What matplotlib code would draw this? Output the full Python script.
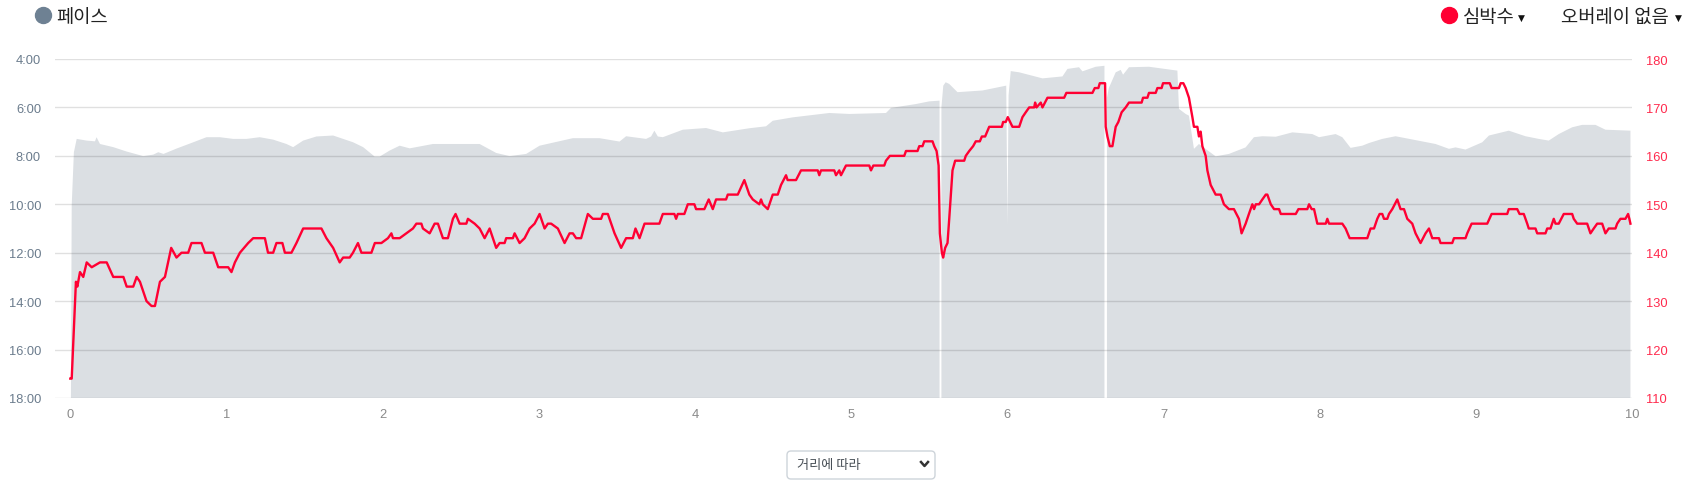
import numpy as np
import matplotlib.pyplot as plt
from matplotlib.lines import Line2D
from matplotlib.patches import FancyBboxPatch

plt.rcParams['font.family'] = ['Noto Sans CJK KR', 'DejaVu Sans']

# pace (min/km) against distance (km); nan = gap in the recording
pace_km = [0.000, 0.004, 0.009, 0.023, 0.041, 0.105, 0.158, 0.168, 0.190, 0.275, 0.360, 0.467,
           0.531, 0.563, 0.597, 0.680, 0.787, 0.872, 0.958, 1.043, 1.128, 1.213, 1.299, 1.384,
           1.427, 1.491, 1.576, 1.683, 1.747, 1.811, 1.875, 1.949, 1.981, 2.045, 2.109, 2.173,
           2.322, 2.621, 2.727, 2.813, 2.919, 3.005, 3.218, 3.389, 3.517, 3.559, 3.687, 3.719,
           3.740, 3.762, 3.794, 3.922, 4.071, 4.178, 4.348, 4.455, 4.498, 4.626, 4.860, 4.988,
           5.223, 5.255, 5.415, 5.500, 5.566, 5.572, 5.578, 5.590, 5.605, 5.628, 5.681, 5.841,
           5.993, 6.001, 6.008, 6.022, 6.076, 6.225, 6.353, 6.385, 6.459, 6.481, 6.566, 6.622,
           6.630, 6.638, 6.650, 6.694, 6.726, 6.741, 6.779, 6.907, 7.089, 7.099, 7.142, 7.163,
           7.195, 7.227, 7.334, 7.419, 7.526, 7.579, 7.633, 7.719, 7.825, 7.953, 7.996, 8.102,
           8.145, 8.198, 8.273, 8.316, 8.401, 8.486, 8.742, 8.828, 8.870, 8.934, 9.041, 9.084,
           9.211, 9.318, 9.403, 9.467, 9.531, 9.617, 9.681, 9.766, 9.830, 9.990]
pace_min = [18.0, 18.0, 10.05, 7.85, 7.30, 7.37, 7.40, 7.23, 7.51, 7.64, 7.82, 8.01,
            7.95, 7.85, 7.92, 7.70, 7.44, 7.23, 7.23, 7.30, 7.30, 7.23, 7.33, 7.51,
            7.64, 7.37, 7.20, 7.16, 7.30, 7.44, 7.64, 8.03, 8.03, 7.78, 7.58, 7.69,
            7.51, 7.51, 7.88, 8.01, 7.92, 7.58, 7.27, 7.27, 7.41, 7.19, 7.30, 7.20,
            6.96, 7.20, 7.23, 6.92, 6.85, 7.03, 6.86, 6.78, 6.55, 6.41, 6.23, 6.27,
            6.23, 6.02, 5.86, 5.75, 5.72, np.nan, 6.00, 5.10, 4.96, 5.03, 5.37, 5.30,
            5.10, 10.88, 5.50, 4.50, 4.55, 4.80, 4.72, 4.41, 4.34, 4.51, 4.32, 4.28,
            np.nan, 5.60, 5.20, 4.55, 4.45, 4.65, 4.34, 4.32, 4.48, 6.06, 6.27, 6.34,
            7.71, 7.51, 8.02, 7.92, 7.65, 7.23, 7.19, 7.21, 7.03, 7.10, 7.23, 7.10,
            7.23, 7.67, 7.58, 7.47, 7.30, 7.19, 7.51, 7.71, 7.65, 7.74, 7.44, 7.16,
            6.96, 7.19, 7.30, 7.37, 7.10, 6.82, 6.72, 6.72, 6.92, 6.96]

# heart rate (bpm) against distance (km)
hr_km = [0.000, 0.009, 0.036, 0.045, 0.062, 0.083, 0.105, 0.137, 0.190, 0.233, 0.275, 0.340,
         0.361, 0.403, 0.425, 0.446, 0.488, 0.520, 0.542, 0.574, 0.606, 0.646, 0.680, 0.712,
         0.755, 0.776, 0.840, 0.862, 0.883, 0.915, 0.947, 1.011, 1.032, 1.054, 1.086, 1.139,
         1.171, 1.246, 1.266, 1.299, 1.320, 1.358, 1.374, 1.416, 1.448, 1.491, 1.608, 1.640,
         1.683, 1.725, 1.747, 1.789, 1.810, 1.842, 1.864, 1.928, 1.950, 1.992, 2.034, 2.056,
         2.066, 2.109, 2.152, 2.194, 2.216, 2.248, 2.258, 2.301, 2.333, 2.354, 2.386, 2.418,
         2.450, 2.467, 2.493, 2.536, 2.546, 2.589, 2.621, 2.653, 2.685, 2.727, 2.749, 2.781,
         2.791, 2.834, 2.845, 2.877, 2.909, 2.941, 2.973, 3.005, 3.037, 3.058, 3.079, 3.122,
         3.165, 3.197, 3.218, 3.239, 3.271, 3.314, 3.346, 3.399, 3.410, 3.442, 3.485, 3.527,
         3.559, 3.602, 3.619, 3.645, 3.677, 3.772, 3.794, 3.868, 3.879, 3.890, 3.932, 3.954,
         3.996, 4.007, 4.060, 4.088, 4.114, 4.135, 4.199, 4.210, 4.274, 4.316, 4.348, 4.370,
         4.412, 4.423, 4.434, 4.466, 4.498, 4.530, 4.551, 4.583, 4.593, 4.647, 4.679, 4.786,
         4.796, 4.807, 4.892, 4.903, 4.924, 4.935, 4.967, 5.116, 5.127, 5.142, 5.212, 5.223,
         5.248, 5.340, 5.351, 5.425, 5.436, 5.457, 5.468, 5.521, 5.532, 5.547, 5.560, 5.568,
         5.581, 5.589, 5.602, 5.617, 5.628, 5.649, 5.666, 5.724, 5.734, 5.756, 5.781, 5.798,
         5.824, 5.837, 5.858, 5.884, 5.965, 5.973, 5.990, 6.003, 6.033, 6.076, 6.097, 6.118,
         6.140, 6.172, 6.178, 6.187, 6.214, 6.225, 6.257, 6.364, 6.378, 6.545, 6.560, 6.583,
         6.592, 6.626, 6.630, 6.641, 6.656, 6.673, 6.694, 6.711, 6.732, 6.758, 6.779, 6.860,
         6.869, 6.897, 6.907, 6.950, 6.961, 6.988, 6.997, 7.040, 7.052, 7.099, 7.110, 7.127,
         7.142, 7.163, 7.185, 7.195, 7.217, 7.227, 7.238, 7.249, 7.270, 7.281, 7.302, 7.334,
         7.366, 7.387, 7.419, 7.451, 7.483, 7.500, 7.526, 7.547, 7.569, 7.580, 7.591, 7.612,
         7.633, 7.655, 7.665, 7.687, 7.708, 7.740, 7.751, 7.847, 7.864, 7.921, 7.932, 7.949,
         7.964, 7.985, 8.039, 8.049, 8.060, 8.145, 8.166, 8.192, 8.305, 8.326, 8.348, 8.369,
         8.384, 8.401, 8.412, 8.433, 8.444, 8.465, 8.497, 8.518, 8.540, 8.561, 8.593, 8.614,
         8.646, 8.678, 8.700, 8.721, 8.764, 8.774, 8.849, 8.860, 8.934, 8.945, 8.973, 9.073,
         9.101, 9.201, 9.211, 9.265, 9.280, 9.307, 9.329, 9.339, 9.382, 9.393, 9.446, 9.457,
         9.478, 9.499, 9.510, 9.531, 9.563, 9.617, 9.627, 9.649, 9.713, 9.734, 9.755, 9.777,
         9.809, 9.830, 9.851, 9.894, 9.905, 9.926, 9.958, 9.975, 9.983, 9.990]
hr_bpm = [114, 114, 134, 133, 136, 135, 138, 137, 138, 138, 135, 135,
          133, 133, 135, 134, 130, 129, 129, 134, 135, 141, 139, 140,
          140, 142, 142, 140, 140, 140, 137, 137, 136, 138, 140, 142,
          143, 143, 140, 140, 142, 142, 140, 140, 142, 145, 145, 143,
          141, 138, 139, 139, 140, 142, 140, 140, 142, 142, 143, 144,
          143, 143, 144, 145, 146, 146, 145, 144, 146, 146, 143, 143,
          147, 148, 146, 146, 147, 146, 145, 143, 145, 141, 142, 142,
          143, 143, 144, 142, 143, 145, 146, 148, 145, 146, 146, 145,
          142, 144, 144, 143, 143, 148, 147, 147, 148, 148, 144, 141,
          143, 143, 145, 143, 146, 146, 148, 148, 147, 148, 148, 150,
          150, 149, 149, 151, 149, 151, 151, 152, 152, 155, 152, 151,
          150, 151, 150, 149, 152, 152, 154, 156, 155, 155, 157, 157,
          156, 157, 157, 156, 157, 156, 158, 158, 157, 158, 158, 159,
          160, 160, 161, 161, 162, 162, 163, 163, 162, 161, 158, 144,
          140, 139, 141, 142, 147, 157, 159, 159, 160, 161, 162, 163,
          163, 164, 164, 166, 166, 167, 167, 168, 166, 166, 168, 169,
          170, 170, 171, 170, 171, 170, 172, 172, 173, 173, 174, 174,
          175, 175, 166, 164, 162, 162, 166, 167, 169, 170, 171, 171,
          172, 172, 173, 173, 174, 174, 175, 175, 174, 174, 175, 175,
          174, 172, 168, 166, 166, 164, 165, 162, 160, 157, 154, 152,
          152, 150, 149, 149, 147, 144, 146, 148, 150, 149, 150, 150,
          151, 152, 152, 150, 149, 149, 148, 148, 149, 149, 150, 149,
          149, 146, 146, 147, 146, 146, 145, 143, 143, 145, 145, 147,
          148, 148, 147, 147, 148, 149, 151, 149, 149, 147, 146, 144,
          142, 144, 145, 143, 143, 142, 142, 143, 143, 144, 146, 146,
          148, 148, 149, 149, 148, 148, 146, 145, 145, 144, 144, 145,
          145, 147, 146, 146, 148, 148, 147, 146, 146, 144, 145, 146,
          146, 144, 145, 145, 146, 147, 147, 148, 147, 146]

pace_ticks = [4, 6, 8, 10, 12, 14, 16, 18]
pace_labels = ['4:00', '6:00', '8:00', '10:00', '12:00', '14:00', '16:00', '18:00']
hr_ticks = [110, 120, 130, 140, 150, 160, 170, 180]
km_ticks = [0, 1, 2, 3, 4, 5, 6, 7, 8, 9, 10]

W, H = 1691, 485
fig = plt.figure(figsize=(W / 100, H / 100), dpi=100)
ax = fig.add_axes([55 / W, 1 - 399 / H, (1632 - 55) / W, 339 / H])
ax2 = ax.twinx()

# pace area (inverted axis, filled from the bottom)
pace = np.array(pace_min, dtype=float)
ax.fill_between(pace_km, pace, 18, color='#dbdfe3', linewidth=0)
ax.set_ylim(18, 4)
ax.set_xlim(-0.098, 10.0)
ax.set_yticks(pace_ticks)
ax.set_yticklabels(pace_labels)
ax.set_xticks(km_ticks)
ax.yaxis.grid(True, color='black', alpha=0.12, linewidth=1)
ax.tick_params(axis='y', length=0, pad=10, labelsize=9.3, labelcolor='#6b7c8d')
ax.tick_params(axis='x', length=0, pad=7, labelsize=9.3, labelcolor='#8a8a8a')

# heart rate line
ax2.plot(hr_km, hr_bpm, color='#ff0033', linewidth=1.7, solid_joinstyle='round')
ax2.set_ylim(110, 180)
ax2.set_yticks(hr_ticks)
ax2.tick_params(axis='y', length=0, pad=10, labelsize=9.3, labelcolor='#ff2a4d')

for a in (ax, ax2):
    for s in a.spines.values():
        s.set_visible(False)
    for lab in a.get_xticklabels() + a.get_yticklabels():
        lab.set_family(['Liberation Sans', 'DejaVu Sans'])

# legend-like header
def fx(x):
    return x / W

def fy(y):
    return 1 - y / H

fig.add_artist(Line2D([fx(43)], [fy(16)], marker='o', markersize=11.5, color='#6e8193',
                      transform=fig.transFigure))
fig.text(fx(56), fy(18), '페이스', fontsize=13.5, color='#222222', va='center', ha='left')
fig.add_artist(Line2D([fx(1449)], [fy(16)], marker='o', markersize=11.5, color='#ff0033',
                      transform=fig.transFigure))
fig.text(fx(1463), fy(18), '심박수', fontsize=13.5, color='#222222', va='center', ha='left')
fig.text(fx(1518), fy(18), '▼', fontsize=6.5, color='#111111', va='center', ha='left',
         family=['DejaVu Sans'])
fig.text(fx(1561), fy(18), '오버레이 없음', fontsize=13.5, color='#222222', va='center', ha='left')
fig.text(fx(1675), fy(18), '▼', fontsize=6.5, color='#111111', va='center', ha='left',
         family=['DejaVu Sans'])

# dropdown at the bottom
box = FancyBboxPatch((7.87, 0.05), 1.48, 0.28, boxstyle='round,pad=0,rounding_size=0.04',
                     facecolor='white', edgecolor='#ced4da', linewidth=1,
                     transform=fig.dpi_scale_trans)
fig.add_artist(box)
fig.text(fx(797), fy(466), '거리에 따라', fontsize=9.5, color='#495057', va='center', ha='left')
fig.add_artist(Line2D([fx(921), fx(924.5), fx(928)], [fy(463), fy(467), fy(463)],
                      color='#333333', linewidth=1.8, transform=fig.transFigure))

fig.savefig('out.png', dpi=100)
